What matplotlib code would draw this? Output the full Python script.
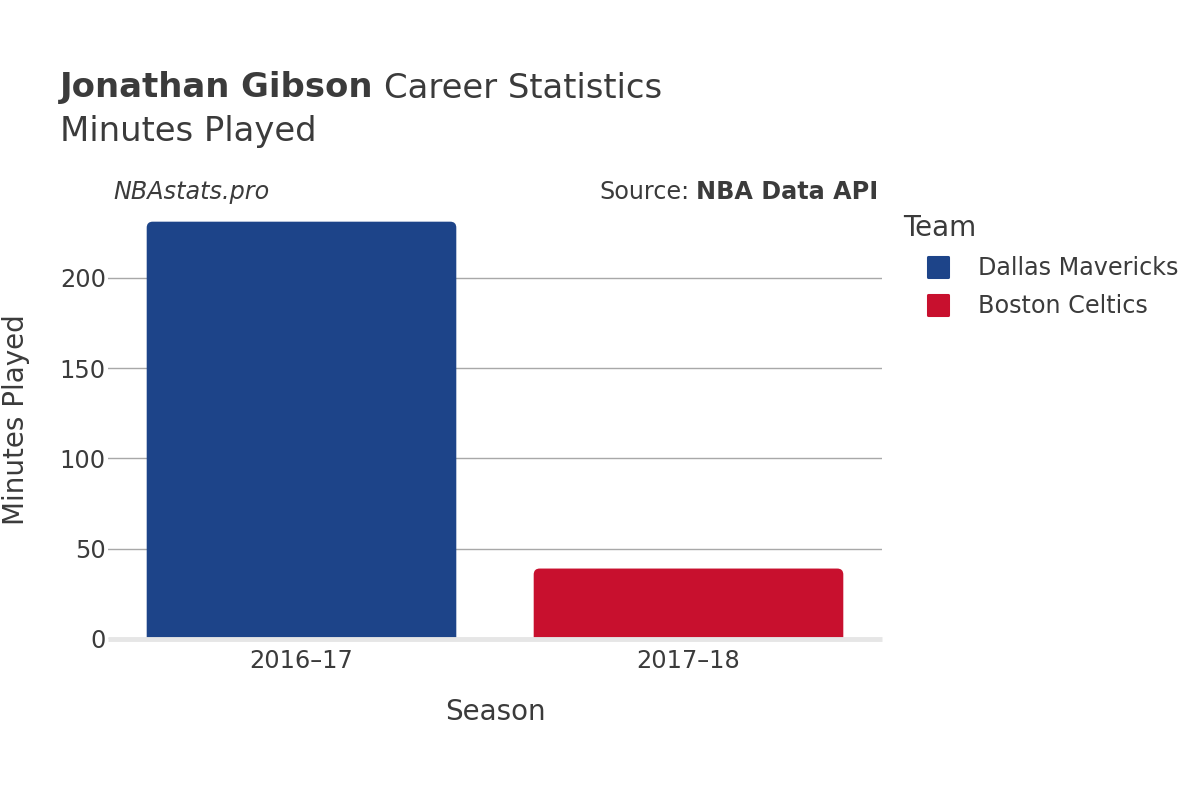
import matplotlib
matplotlib.use("Agg")
import matplotlib.pyplot as plt
from matplotlib.patches import FancyBboxPatch
from matplotlib.lines import Line2D
from matplotlib.markers import MarkerStyle

seasons = ["2016–17", "2017–18"]
teams = ["Dallas Mavericks", "Boston Celtics"]
minutes = [231, 39]
colors = ["#1d4489", "#c8102e"]
yticks = [0, 50, 100, 150, 200]

TXT = "#3b3b3b"
plt.rcParams['font.family'] = ['DejaVu Sans']

fig = plt.figure(figsize=(12, 8), dpi=100)
ax = fig.add_axes([108/1200, 1-639/800, (882-108)/1200, (639-200)/800])

ymax = 243
ax.set_ylim(0, ymax)
ax.set_xlim(-0.5, len(seasons) - 0.5)

bars = ax.bar(range(len(seasons)), minutes, width=0.8, color=colors, zorder=3)
px_x = (len(seasons)) / 774.0
px_y = ymax / 439.0
r = 6 * px_x
for b, c in zip(bars, colors):
    x0, w, h = b.get_x(), b.get_width(), b.get_height()
    b.set_visible(False)
    p = FancyBboxPatch((x0, -20), w, h + 20,
                       boxstyle=f"round,pad=0,rounding_size={r}",
                       mutation_aspect=px_y / px_x,
                       facecolor=c, edgecolor="none", zorder=3, clip_on=True)
    ax.add_patch(p)

ax.set_xticks(range(len(seasons)))
ax.set_xticklabels(seasons)
ax.set_yticks(yticks)
ax.yaxis.grid(True, color="#a8a8a8", linewidth=1, zorder=0)
ax.axhline(0, color="#e6e6e6", linewidth=3.5, zorder=4, clip_on=False,
           solid_capstyle='butt')
for s in ax.spines.values():
    s.set_visible(False)
ax.tick_params(axis='y', length=0, labelsize=17.3, labelcolor=TXT, pad=1.5)
ax.tick_params(axis='x', length=0, labelsize=17.3, labelcolor=TXT, pad=7)

ax.set_xlabel("Season", fontsize=20, color=TXT, labelpad=18)
ax.set_ylabel("Minutes Played", fontsize=20, color=TXT)
ax.yaxis.set_label_coords(-(108-30)/774, 0.5)

t1 = fig.text(60/1200, 1-88/800, "Jonathan Gibson", fontsize=24.4, fontweight='bold', color=TXT, va='center', ha='left')
fig.canvas.draw()
bb = t1.get_window_extent()
fig.text((bb.x1 + 10)/1200, 1-88/800, "Career Statistics", fontsize=24.4, color=TXT, va='center', ha='left')
fig.text(60/1200, 1-132/800, "Minutes Played", fontsize=24.4, color=TXT, va='center', ha='left')

fig.text(113/1200, 1-192/800, "NBAstats.pro", fontsize=17.2, style='italic', color=TXT, va='center', ha='left')
t2 = fig.text(878/1200, 1-192/800, "NBA Data API", fontsize=17.2, fontweight='bold', color=TXT, va='center', ha='right')
fig.canvas.draw()
bb2 = t2.get_window_extent()
fig.text((bb2.x0 - 6)/1200, 1-192/800, "Source:", fontsize=17.2, color=TXT, va='center', ha='right')

handles = [Line2D([0], [0], marker=MarkerStyle('s', joinstyle='round'),
                  linestyle='none', markersize=14.5,
                  markerfacecolor=c, markeredgecolor=c, markeredgewidth=2.2)
           for c in colors]
leg = fig.legend(handles, teams, title="Team", loc='upper left',
                 bbox_to_anchor=(893.5/1200, 1-204/800), frameon=False,
                 fontsize=17.2, title_fontsize=20, alignment='left',
                 handletextpad=0.25, labelspacing=0.6, borderaxespad=0,
                 handlelength=2.89)
for t in leg.get_texts():
    t.set_color(TXT)
leg.get_title().set_color(TXT)

fig.savefig("out.png", dpi=100, facecolor="white")
